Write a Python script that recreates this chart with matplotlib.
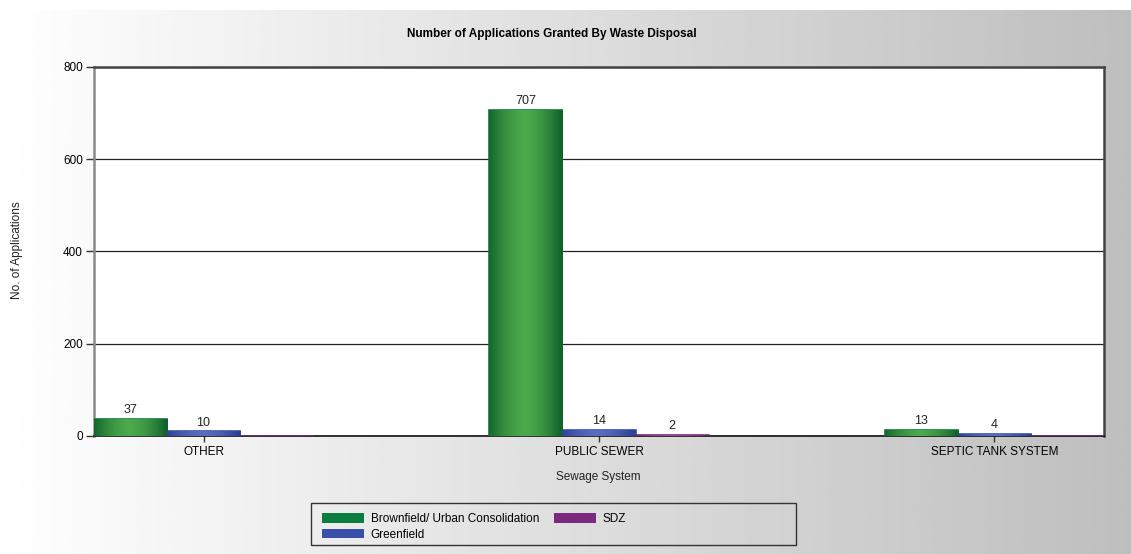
import numpy as np
import matplotlib
matplotlib.use("Agg")
import matplotlib.pyplot as plt
from matplotlib.patches import Rectangle, Patch
from matplotlib.colors import to_rgb

# --- data -------------------------------------------------------------
categories = ["OTHER", "PUBLIC SEWER", "SEPTIC TANK SYSTEM"]
series_names = ["Brownfield/ Urban Consolidation", "Greenfield", "SDZ"]
brownfield = [37, 707, 13]
greenfield = [10, 14, 4]
sdz = [0, 2, 0]
yticks = [0, 200, 400, 600, 800]

title = "Number of Applications Granted By Waste Disposal"
xlabel = "Sewage System"
ylabel = "No. of Applications"

# --- styles -----------------------------------------------------------
flat_colors = ["#0b7d3f", "#3a4fa8", "#7b2a80"]
edge_colors = ["#12622c", "#2c3f95", "#6a2270"]
mid_colors = ["#4ca94c", "#5a6cc0", "#9a4aa0"]

SANS = ["Liberation Sans", "DejaVu Sans"]

W, H, DPI = 1131, 554, 100
fig = plt.figure(figsize=(W / DPI, H / DPI), dpi=DPI)
fig.patch.set_facecolor("white")

# grey left-to-right gradient background
bg = fig.add_axes([0, 0, 1, 1 - 10 / H], zorder=-5)
grad = np.linspace(1.0, 190 / 255, 512)
bg.imshow(np.tile(grad, (2, 1)), cmap="gray", vmin=0, vmax=1,
          aspect="auto", extent=(0, 1, 0, 1))
bg.set_axis_off()

ax = fig.add_axes([94 / W, 1 - 436 / H, (1104 - 94) / W, (436 - 67) / H])
ax.set_facecolor("white")

x = np.arange(len(categories))
bw = 0.1846
series = [brownfield, greenfield, sdz]
offsets = [-bw, 0, bw]

# cylinder-like shading profile across each bar
t = np.linspace(0, 1, 64)
prof = np.clip(1 - np.abs(2 * t - 0.96) ** 1.6, 0, 1)

for vals, off, fc, ec, mc in zip(series, offsets, flat_colors, edge_colors, mid_colors):
    bars = ax.bar(x + off, vals, width=bw, color=fc, edgecolor=fc,
                  linewidth=1.2, zorder=3)
    e = np.array(to_rgb(ec)); m = np.array(to_rgb(mc))
    img = e[None, None, :] + (m - e)[None, None, :] * prof[None, :, None]
    img = np.repeat(img, 2, axis=0)
    for r, v in zip(bars.patches, vals):
        if v <= 0:
            continue
        x0, y0 = r.get_x(), r.get_y()
        im = ax.imshow(img, extent=(x0, x0 + r.get_width(), y0, y0 + r.get_height()),
                       aspect="auto", zorder=4, interpolation="bilinear")
        im.set_clip_path(r)
    labels = [str(v) if v > 0 else "" for v in vals]
    ax.bar_label(bars, labels=labels, padding=2, fontsize=9, family=SANS,
                 color="#222222", zorder=6)

ax.set_xlim(-1.5 * bw, len(categories) - 1 + 1.5 * bw)
ax.set_ylim(0, 800)
ax.set_yticks(yticks)
ax.set_yticklabels([str(v) for v in yticks], family=SANS, fontsize=8.5)
ax.set_xticks(x)
ax.set_xticklabels(categories, family=SANS, fontsize=8.5)
ax.tick_params(axis="y", length=6, width=1, color="#333333", pad=2)
ax.tick_params(axis="x", length=4, width=1, color="#333333", pad=3)
ax.yaxis.grid(True, color="#222222", linewidth=0.9, zorder=1)
ax.set_axisbelow(True)

for side in ["top", "right"]:
    ax.spines[side].set_color("#444444")
    ax.spines[side].set_linewidth(1.8)
ax.spines["left"].set_color("#8a8a8a")
ax.spines["left"].set_linewidth(1.8)
ax.spines["bottom"].set_color("#111111")
ax.spines["bottom"].set_linewidth(1.2)

fig.text(552 / W, 1 - 34 / H, title, ha="center", va="center",
         fontsize=8.5, fontweight="bold", family=SANS)
fig.text(598 / W, 1 - 477 / H, xlabel, ha="center", va="center",
         fontsize=8.5, family=SANS, color="#222222")
fig.text(17 / W, 1 - 250 / H, ylabel, ha="center", va="center", rotation=90,
         fontsize=8.5, family=SANS, color="#222222")

# legend box and entries
fig.patches.append(Rectangle((311 / W, 1 - 545 / H), (796 - 311) / W, (545 - 503) / H,
                             transform=fig.transFigure, facecolor="none",
                             edgecolor="#333333", linewidth=1.0, zorder=2))
handles = [Patch(facecolor=c, edgecolor="none") for c in flat_colors]
fig.legend(handles, series_names, loc="upper left",
           bbox_to_anchor=(314 / W, 1 - 505 / H), ncol=2, frameon=False,
           prop={"family": SANS, "size": 8.5},
           handlelength=3.5, handleheight=0.85, handletextpad=0.6,
           columnspacing=1.3, labelspacing=0.3, borderpad=0.2)

fig.savefig("out.png", dpi=DPI)
